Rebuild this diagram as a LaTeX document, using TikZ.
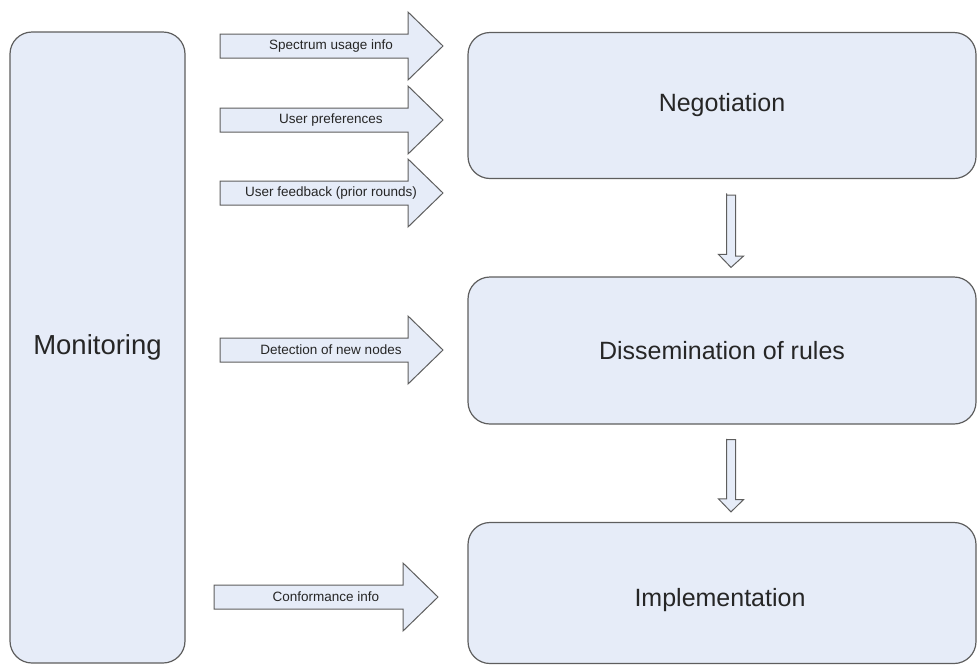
\documentclass[tikz,border=0pt]{standalone}
\usepackage{fontspec}
\setmainfont{Liberation Sans}
\usepackage{xcolor}
\usetikzlibrary{calc}

\definecolor{boxfill}{HTML}{E6ECF8}
\definecolor{boxline}{HTML}{5E5E5E}

\tikzset{
    stagebox/.style={draw=boxline, line width=1.2pt, fill=boxfill, rounded corners=22pt,
        inner sep=0pt, font=\fontsize{25}{30}\selectfont, text=black!85},
    blockarrow/.style={draw=boxline, line width=1pt, fill=boxfill, line join=miter},
    arrowtext/.style={font=\fontsize{13.5}{16}\selectfont, text=black!85, inner sep=0pt}
}

\begin{document}
\begin{tikzpicture}[x=1pt,y=-1pt]
    \useasboundingbox (0,0) rectangle (978,665);

    % Stages
    \node[stagebox, minimum width=175pt, minimum height=631pt, font=\fontsize{27.5}{32}\selectfont] (mon) at (97.5,347.5) {Monitoring};
    \node[stagebox, minimum width=508pt, minimum height=146pt] (neg) at (722,105.5) {Negotiation};
    \node[stagebox, minimum width=508pt, minimum height=147pt] (diss) at (722,350.5) {Dissemination of rules};
    \node[stagebox, minimum width=508pt, minimum height=141pt] (impl) at (722,593) {};
    \node[font=\fontsize{25}{30}\selectfont, text=black!85, inner sep=0pt] (impltext) at ($(impl.center)+(-2,7)$) {Implementation};

    % Inputs to negotiation
    \draw[blockarrow] (220,34) -- (408,34) -- (408,12) -- (443,46) -- (408,80) -- (408,58) -- (220,58) -- cycle;
    \node[arrowtext] (spec) at (331,46) {Spectrum usage info};
    \draw[blockarrow] (220,108) -- (408,108) -- (408,86) -- (443,120) -- (408,154) -- (408,132) -- (220,132) -- cycle;
    \node[arrowtext] (pref) at (331,120) {User preferences};
    \draw[blockarrow] (220,181) -- (408,181) -- (408,159) -- (443,193) -- (408,227) -- (408,205) -- (220,205) -- cycle;
    \node[arrowtext] (feed) at (331,193) {User feedback (prior rounds)};

    % Input to dissemination
    \draw[blockarrow] (220,338) -- (408,338) -- (408,316) -- (443,350) -- (408,384) -- (408,362) -- (220,362) -- cycle;
    \node[arrowtext] (detect) at (331,350) {Detection of new nodes};

    % Input to implementation
    \draw[blockarrow] (214,585) -- (403,585) -- (403,563) -- (438,597) -- (403,631) -- (403,609) -- (214,609) -- cycle;
    \node[arrowtext] (conf) at (326,597) {Conformance info};

    % Stage to stage
    \draw[blockarrow] ($(neg.south)+(4.5,16)$) -- ++(9,0) -- ++(0,61) -- ++(8,0)
        -- ($(diss.north)+(9,-9)$) -- ++(-12.5,-13) -- ++(8,0) -- ++(0,-61) -- cycle;
    \draw[blockarrow] ($(diss.south)+(4.5,15)$) -- ++(9,0) -- ++(0,60) -- ++(8,0)
        -- ($(impl.north)+(9,-10)$) -- ++(-12.5,-13) -- ++(8,0) -- ++(0,-60) -- cycle;
\end{tikzpicture}
\end{document}
